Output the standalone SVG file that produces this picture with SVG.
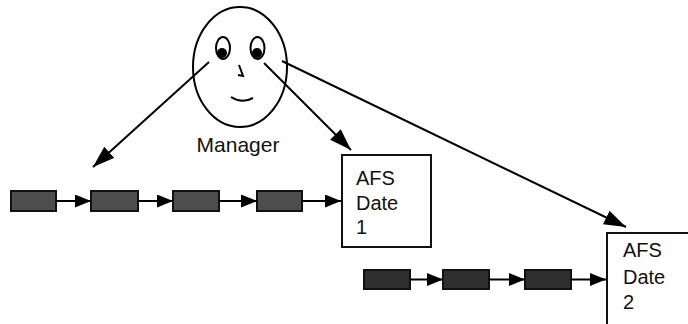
<svg xmlns="http://www.w3.org/2000/svg" width="688" height="324" viewBox="0 0 688 324">
  <defs>
    <marker id="headLong" markerUnits="userSpaceOnUse" markerWidth="24" markerHeight="16" refX="22" refY="7.5" orient="auto">
      <path d="M0,0 L22,7.5 L0,15 z" fill="#000"/>
    </marker>
    <marker id="headShort" markerUnits="userSpaceOnUse" markerWidth="18" markerHeight="14" refX="16" refY="6.5" orient="auto">
      <path d="M0,0 L16,6.5 L0,13 z" fill="#000"/>
    </marker>
  </defs>
  <style>
    .line { stroke: #000; stroke-width: 2; fill: none; }
    .long { marker-end: url(#headLong); }
    .short { marker-end: url(#headShort); }
    .block1 { fill: #4d4d4d; stroke: #111; stroke-width: 2; }
    .block2 { fill: #2f2f2f; stroke: #111; stroke-width: 2; }
    .afs { fill: #fff; stroke: #111; stroke-width: 2; }
    .label { font-family: "Liberation Sans", Arial, sans-serif; font-size: 20px; fill: #111; }
    .face { stroke: #000; stroke-width: 2; fill: none; }
  </style>
  <rect width="688" height="324" fill="#fff"/>

  <!-- manager face -->
  <g id="manager">
    <ellipse class="face" cx="240" cy="67" rx="47" ry="60"/>
    <ellipse class="face" cx="223" cy="48" rx="7" ry="11"/>
    <ellipse class="face" cx="257.5" cy="48" rx="7" ry="11"/>
    <circle cx="222" cy="53" r="5" fill="#000"/>
    <circle cx="257" cy="53" r="5" fill="#000"/>
    <path class="face" d="M239,65 L243,76 L238,75"/>
    <path class="face" d="M231,97 Q242,104 253,98"/>
    <text class="label" x="238" y="152" text-anchor="middle" style="font-size:21px">Manager</text>
  </g>

  <!-- first timeline -->
  <g id="chain1">
    <rect class="block1" x="11" y="191" width="45" height="20"/>
    <rect class="block1" x="91" y="191" width="47" height="20"/>
    <rect class="block1" x="173" y="191" width="46" height="20"/>
    <rect class="block1" x="257" y="191" width="45" height="20"/>
  </g>
  <g id="afs1">
    <rect class="afs" x="342" y="155" width="89" height="92"/>
    <text class="label" x="356" y="185">AFS</text>
    <text class="label" x="356" y="210">Date</text>
    <text class="label" x="356" y="234">1</text>
  </g>

  <!-- second timeline -->
  <g id="chain2">
    <rect class="block2" x="364" y="270" width="46" height="19"/>
    <rect class="block2" x="443" y="270" width="46" height="19"/>
    <rect class="block2" x="525" y="270" width="46" height="19"/>
  </g>
  <g id="afs2">
    <rect class="afs" x="607" y="233" width="100" height="100"/>
    <text class="label" x="623" y="257">AFS</text>
    <text class="label" x="623" y="284">Date</text>
    <text class="label" x="623" y="309">2</text>
  </g>

  <!-- connectors -->
  <g id="connectors">
    <line class="line long" x1="209" y1="62" x2="93" y2="167"/>
    <line class="line long" x1="264" y1="63" x2="351" y2="150"/>
    <line class="line long" x1="282" y1="61" x2="626" y2="227"/>

    <line class="line short" x1="56" y1="201" x2="91" y2="201"/>
    <line class="line short" x1="138" y1="201" x2="173" y2="201"/>
    <line class="line short" x1="219" y1="201" x2="257" y2="201"/>
    <line class="line short" x1="302" y1="201" x2="341" y2="201"/>

    <line class="line short" x1="410" y1="279.5" x2="443" y2="279.5"/>
    <line class="line short" x1="489" y1="279.5" x2="525" y2="279.5"/>
    <line class="line short" x1="571" y1="279.5" x2="606" y2="279.5"/>
  </g>
</svg>
